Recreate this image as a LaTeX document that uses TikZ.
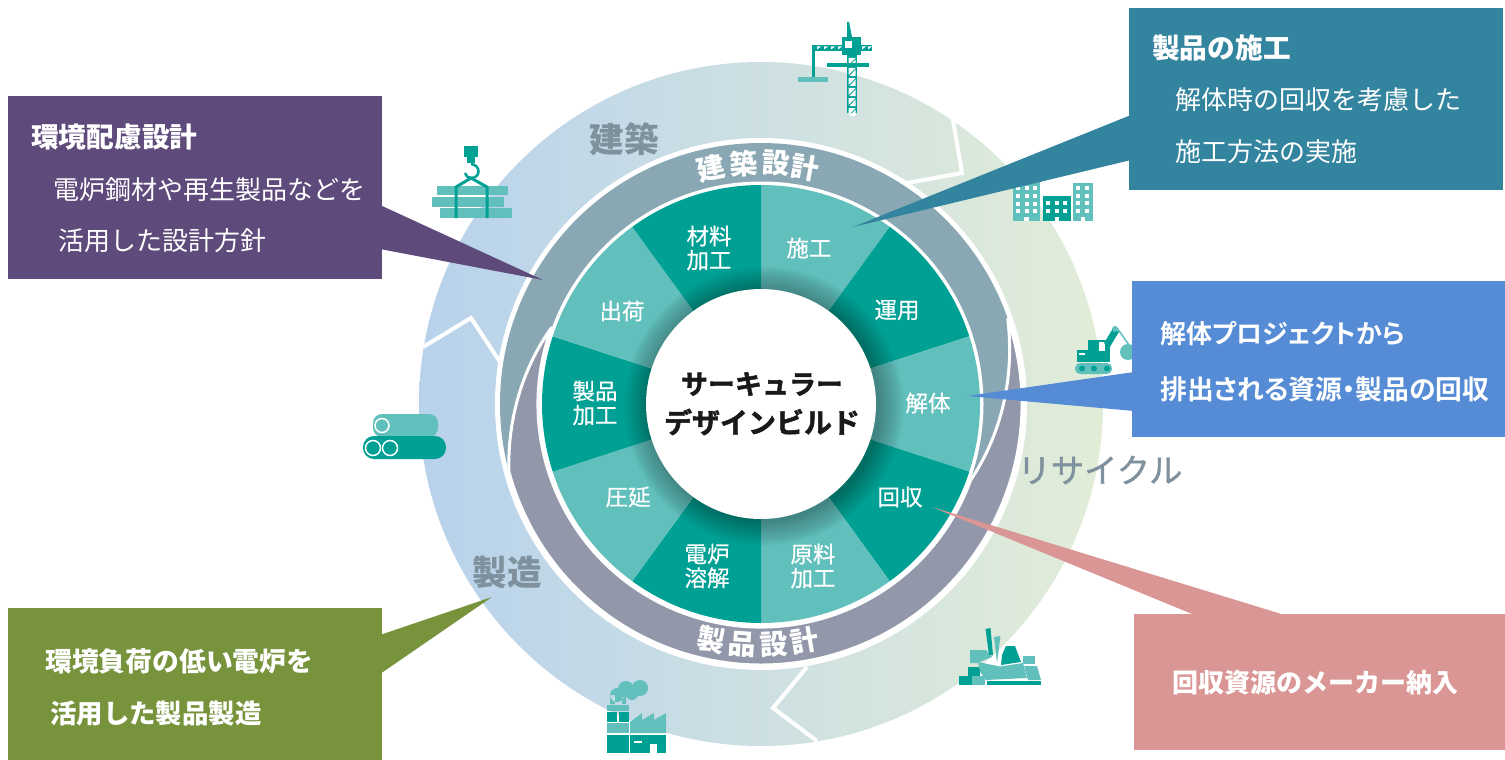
\documentclass[tikz,border=0pt]{standalone}
\usepackage{fontspec}
\setmainfont{Noto Sans CJK JP}
\newfontfamily\blk{Noto Sans CJK JP Bold}[FakeBold=1.7]
\newfontfamily\med{Noto Sans CJK JP}[FakeBold=1.1]
\newfontfamily\secf{Noto Sans CJK JP}[FakeBold=0.35]
\newfontfamily\palt{Noto Sans CJK JP Bold}[RawFeature=+palt]
\definecolor{tdark}{HTML}{00A095}
\definecolor{tlight}{HTML}{62C0BC}
\definecolor{bandA}{HTML}{8AA8B3}
\definecolor{bandB}{HTML}{9298A9}
\definecolor{greytext}{HTML}{7E919D}
\definecolor{cPurple}{HTML}{5F4A7C}
\definecolor{cTeal}{HTML}{33849E}
\definecolor{cBlue}{HTML}{558CD5}
\definecolor{cRed}{HTML}{D99694}
\definecolor{cGreen}{HTML}{77933C}
\definecolor{ringL}{HTML}{B8D2EC}
\definecolor{ringM}{HTML}{CFE0E4}
\definecolor{ringR}{HTML}{E2EDD8}
\tikzset{
  box/.style={anchor=north west,inner sep=0pt,outer sep=0pt},
  hd/.style={anchor=west,text=white,inner sep=0pt,font=\bfseries\fontsize{27.7}{30}\selectfont},
  bd/.style={anchor=west,text=white,inner sep=0pt,font=\fontsize{26}{30}\selectfont},
  bb/.style={anchor=west,text=white,inner sep=0pt,font=\bfseries\fontsize{26.6}{30}\selectfont},
  seclabel/.style={text=white,inner sep=0pt,align=center,font=\secf\fontsize{22.5}{24}\selectfont},
  arcchar/.style={text=white,inner sep=0pt,font=\bfseries\fontsize{28}{30}\selectfont},
  ringlabel/.style={text=greytext,inner sep=0pt,font=\bfseries\fontsize{34.5}{36}\selectfont},
  chevron/.style={draw=white,line width=4pt,line join=miter},
}
\begin{document}
\begin{tikzpicture}[x=1pt,y=-1pt]
\useasboundingbox (0,0) rectangle (1505,760);
% outer ring
\shade[left color=ringL,middle color=ringM,right color=ringR,shading angle=90] (761,404) circle (342pt);
\draw[chevron] (423,347) -- (471,318) -- (500,362);
\draw[chevron] (953,120) -- (962,173) -- (907,183);
\draw[chevron] (807,667) -- (773,708) -- (817,741);
\fill[white] (761,404) circle (266pt);
\begin{scope}[shift={(761,404)},y=1pt]
  \fill[bandA] (0,0) circle (261pt);
  \filldraw[fill=bandB,draw=white,line width=3pt,line join=round]
     (160:223) arc[start angle=160,end angle=340,radius=223pt]
     -- plot[domain=340:379,samples=30] ({\x}:{223+38*(\x-340)/39})
     arc[start angle=19,end angle=-165,radius=261pt]
     -- plot[domain=195:160,samples=30] ({\x}:{223+38*(\x-160)/35})
     -- cycle;
  \fill[white] (0,0) circle (222.5pt);
  % sectors
  \foreach \a/\c in {54/tlight,18/tdark,-18/tlight,-54/tdark,-90/tlight,-126/tdark,-162/tlight,162/tdark,126/tlight,90/tdark}{
    \fill[\c] (0,0) -- (\a:219) arc[start angle=\a,delta angle=36,radius=219pt] -- cycle;
  }
  \foreach \r in {116,...,140}{ \fill[black,opacity=0.013] (3,-2) circle (\r pt); }
  \fill[white] (0,0) circle (115pt);
  % band lettering
  \node[arcchar,rotate=12]   (k1) at (102:241) {建};
  \node[arcchar,rotate=4]    (k2) at (94:241) {築};
  \node[arcchar,rotate=-3.5] (k3) at (86.5:241) {設};
  \node[arcchar,rotate=-10]  (k4) at (79.5:241) {計};
  \node[arcchar,rotate=-11]  (s1) at (-102:241) {製};
  \node[arcchar,rotate=-4]   (s2) at (-94.5:241) {品};
  \node[arcchar,rotate=3]    (s3) at (-87:241) {設};
  \node[arcchar,rotate=10]   (s4) at (-79.5:241) {計};
\end{scope}
% sector labels
\node[seclabel] (n1) at (709,248) {材料\\加工};
\node[seclabel] (n2) at (809,248) {施工};
\node[seclabel] (n3) at (897,310) {運用};
\node[seclabel] (n4) at (928,403) {解体};
\node[seclabel] (n5) at (900,497) {回収};
\node[seclabel] (n6) at (813,566) {原料\\加工};
\node[seclabel] (n7) at (707,566) {電炉\\溶解};
\node[seclabel] (n8) at (628,497) {圧延};
\node[seclabel] (n9) at (595,403) {製品\\加工};
\node[seclabel] (n10) at (622,311) {出荷};
% centre
\node[inner sep=0pt,font=\blk\fontsize{27}{30}\selectfont,text=black!90] (c1) at (762,384) {サーキュラー};
\node[inner sep=0pt,font=\blk\fontsize{28}{30}\selectfont,text=black!90] (c2) at (762,422) {デザインビルド};
% ring labels
\node[ringlabel] (r1) at (624,139) {建築};
\node[ringlabel] (r2) at (507,572) {製造};
\node[inner sep=0pt,text=greytext,font=\med\fontsize{33.3}{36}\selectfont] (r3) at (1100,470) {リサイクル};
% ICONS ------------------------------------------------------
% crane
\fill[tdark] (847,22) -- (849,22) -- (852,37) -- (847,37) -- cycle;
\fill[tdark] (847,55) rectangle (857,113);
\foreach \y in {58,68,...,108}{ \fill[white] (848.5,\y) -- (855.5,\y) -- (848.5,\y+7)--cycle; \fill[white] (855.5,\y+1.5) -- (855.5,\y+8) -- (849.5,\y+8) -- cycle;}
\fill[tdark] (812,45) rectangle (872,51);
\foreach \x in {817,824,...,838,862,868}{ \fill[white] (\x,46.5) -- (\x+4,46.5) -- (\x,49.5) -- cycle; }
\fill[tdark] (842,37) rectangle (861,55);
\fill[white] (845,41) rectangle (852,48);
\fill[tdark] (812,50) rectangle (814.5,77);
\fill[tlight] (798,77) rectangle (828,82);
\fill[tdark] (827,63) rectangle (869,67);
% buildings
\fill[tlight] (1013,182) rectangle (1040,221);
\fill[tdark] (1043,196) rectangle (1071,221);
\fill[tlight] (1073,183) rectangle (1093,221);
\foreach \x in {1018,1026.5,1035}{\foreach \y in {188,196,204,211}{\fill[white] (\x-2,\y-2) rectangle (\x+2,\y+2);}}
\foreach \x in {1048,1057,1065}{\foreach \y in {203,211}{\fill[white] (\x-2,\y-2) rectangle (\x+2,\y+2);}}
\foreach \x in {1078,1087}{\foreach \y in {188,196,203,211}{\fill[white] (\x-2,\y-2) rectangle (\x+2,\y+2);}}
\fill[white] (1024,217) rectangle (1029,221);
\fill[white] (1055,217) rectangle (1059,221);
\fill[white] (1081,217) rectangle (1085,221);
% excavator
\fill[tlight] (1128,352) circle (8pt);
\draw[tlight,line width=1.5pt] (1117,328) -- (1129,345);
\fill[tdark] (1088,340) rectangle (1110,362);
\fill[tdark] (1077,350) rectangle (1110,362);
\fill[white] (1099,342) rectangle (1105,351);
\fill[white] (1079,353) rectangle (1085,355);
\draw[tdark,line width=7pt] (1107,345) -- (1116,330);
\fill[tlight] (1115,329) circle (3pt);
\fill[tlight,rounded corners=5pt] (1075,363) rectangle (1112,374);
\foreach \x in {1082,1094,1107}{\fill[tdark] (\x,368.5) circle (3pt);}
% hook and steel
\fill[tlight] (437,186) rectangle (508,195);
\fill[tlight] (432,197) rectangle (504,207);
\fill[tlight] (440,208) rectangle (512,218);
\fill[tdark] (464,146) rectangle (478,157);
\fill[tdark] (467,157) rectangle (475,163);
\draw[tdark,line width=2.5pt] (471,164) .. controls (481,165) and (481,178) .. (471,178) .. controls (468,178) and (466,176) .. (465,173);
\draw[tdark,line width=3pt,line join=round] (456,218) -- (456,187) -- (471,178) -- (487,187) -- (487,218);
% pipes
\fill[tlight,rounded corners=9pt] (373,414) rectangle (438,437);
\fill[tdark,rounded corners=11pt] (363,436) rectangle (446,459);
\filldraw[fill=tlight,draw=white,line width=1.5pt] (382,425.5) circle (7pt);
\filldraw[fill=tdark,draw=white,line width=1.5pt] (373,448) circle (7.5pt);
\filldraw[fill=tdark,draw=white,line width=1.5pt] (390,448) circle (7.5pt);
% factory
\fill[tlight] (626,689) circle (8pt) (640,688) circle (8pt) (617,695) circle (7pt) (632,694) circle (6pt) (610,704) rectangle (615,695) (622,704) rectangle (626,697);
\fill[tlight] (607,705) rectangle (629,711);
\fill[tdark] (607,712) rectangle (617,722);
\fill[tdark] (619,712) rectangle (629,722);
\fill[tlight] (607,723) rectangle (629,733);
\fill[tdark] (607,735) rectangle (629,753);
\fill[tlight] (630,733) -- (630,722) -- (642,713) -- (642,720) -- (654,713) -- (654,720) -- (666,713) -- (666,733) -- cycle;
\fill[tdark] (630,735) rectangle (666,753);
\fill[white] (650,744) rectangle (657,753);
\fill[white] (634,741) rectangle (642,743);
% scrap
\fill[tdark] (987,681) rectangle (1041,685);
\fill[tdark] (959,676) rectangle (972,685);
\fill[tdark] (968,667) rectangle (980,676);
\fill[tlight] (972,676) rectangle (985,685);
\fill[tlight] (978,662) -- (1000,666.5) -- (1023,663) -- (1027,678) -- (986,680) -- (980,672) -- cycle;
\fill[tlight] (970,650) -- (986,650) -- (992,657) -- (977,663) -- (970,663) -- cycle;
\fill[tdark] (985.5,629) -- (990.5,628) -- (993,655) -- (989,655) -- cycle;
\fill[tlight] (994,637) -- (1000.5,636) -- (997,663) -- cycle;
\fill[tdark] (1006,646) -- (1015,646) -- (1021,662) -- (1001,665) -- (1002,655) -- cycle;
\fill[tlight] (1023,656) rectangle (1035,664);
\fill[tlight] (1024,666) -- (1037,666) -- (1041,680) -- (1028,680) -- cycle;
% CALLOUTS ---------------------------------------------------
\coordinate (tipP) at (543,280);
\coordinate (tipT) at (853,227);
\coordinate (tipB) at (967,396);
\coordinate (tipR) at (932,507);
\coordinate (tipG) at (492,597);
\fill[cPurple] (380,205) -- (tipP) -- (380,249) -- cycle;
\fill[cTeal] (1131,115) -- (tipT) -- (1131,160) -- cycle;
\fill[cBlue] (1134,372) -- (tipB) -- (1134,411) -- cycle;
\fill[cRed] (1288,616) -- (tipR) -- (1197,616) -- cycle;
\fill[cGreen] (380,635) -- (tipG) -- (380,674) -- cycle;
\node[box,fill=cPurple,minimum width=374pt,minimum height=183pt] (bP) at (8,96) {};
\node[box,fill=cTeal,minimum width=374pt,minimum height=182pt] (bT) at (1129,8) {};
\node[box,fill=cBlue,minimum width=373pt,minimum height=156pt] (bB) at (1132,281) {};
\node[box,fill=cRed,minimum width=371pt,minimum height=136pt] (bR) at (1134,614) {};
\node[box,fill=cGreen,minimum width=374pt,minimum height=152pt] (bG) at (8,608) {};
\node[hd] (t1) at (31,137) {環境配慮設計};
\node[bd] (t2) at (53,190) {電炉鋼材や再生製品などを};
\node[bd] (t3) at (58,241) {活用した設計方針};
\node[hd] (t4) at (1152,48) {製品の施工};
\node[bd] (t5) at (1175,100) {解体時の回収を考慮した};
\node[bd] (t6) at (1175,152) {施工方法の実施};
\node[anchor=west,text=white,inner sep=0pt,font=\palt\fontsize{26}{30}\selectfont] (t7) at (1160,334) {解体プロジェクトから};
\node[anchor=west,text=white,inner sep=0pt,font=\palt\fontsize{26.8}{30}\selectfont] (t8) at (1160,389) {排出される資源・製品の回収};
\node[bb,font=\bfseries\fontsize{26}{30}\selectfont] (t9) at (1172,683) {回収資源のメーカー納入};
\node[bb,font=\bfseries\fontsize{26.8}{30}\selectfont] (t10) at (45,661) {環境負荷の低い電炉を};
\node[bb,font=\bfseries\fontsize{26.4}{30}\selectfont] (t11) at (50,714) {活用した製品製造};
\end{tikzpicture}
\end{document}
